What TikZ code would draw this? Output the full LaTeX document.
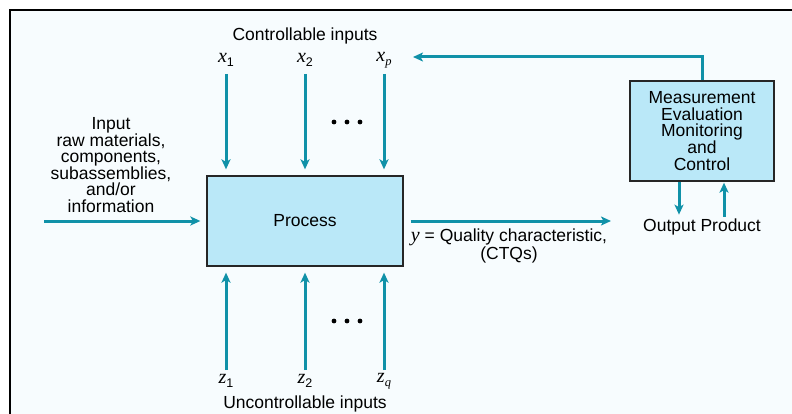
\documentclass[tikz,border=0pt]{standalone}
\usepackage{fontspec}
\setmainfont{Liberation Sans}
\newfontfamily\timesfont{Liberation Serif}
\usetikzlibrary{arrows.meta, positioning}

\definecolor{flowteal}{RGB}{16,145,168}
\definecolor{boxblue}{RGB}{186,232,248}
\definecolor{paper}{RGB}{247,252,254}

\newcommand{\ivar}[1]{{\timesfont\itshape\fontsize{20}{16.6}\selectfont #1}}
\newcommand{\subit}[1]{{\timesfont\itshape #1}}
\newcommand{\mvar}[2]{\ivar{#1}\raisebox{-0.45ex}{\fontsize{12.5}{12.5}\selectfont #2}}

\tikzset{
  flow/.style={draw=flowteal, line width=3pt, -{Stealth[length=10pt,width=9pt,inset=2.5pt]}},
  blockbox/.style={draw=black!85, line width=1.3pt, fill=boxblue},
  lbl/.style={inner sep=0pt, align=center, font=\fontsize{17.5}{16.6}\selectfont},
}

\begin{document}
\begin{tikzpicture}[x=1pt,y=-1pt]
    \useasboundingbox (0,0) rectangle (792,414);
    \fill[paper] (10,10) rectangle (792,414);
    \draw[line width=2pt] (10,414) -- (10,10) -- (792,10);

    % blocks
    \node[blockbox, lbl, minimum width=196pt, minimum height=90pt] (proc) at (305,221) {Process};
    \node[blockbox, lbl, minimum width=144pt, minimum height=100pt] (meas) at (702,131)
        {Measurement\\Evaluation\\Monitoring\\and\\Control};

    % inputs
    \node[lbl] (ctrl) at (305,36) {Controllable inputs};
    \node[lbl] (unctrl) at (305,404) {Uncontrollable inputs};
    \foreach \nm/\xx/\tx in {x1/226/\mvar{x}{1}, x2/305/\mvar{x}{2}, xp/384/\mvar{x}{\subit{p}}} {
        \node[lbl] (\nm) at (\xx,60) {\tx};
        \draw[flow] (\nm) ++(0,14) -- ([yshift=6pt]\nm |- proc.north);
    }
    \foreach \nm/\xx/\tx in {z1/226/\mvar{z}{1}, z2/305/\mvar{z}{2}, zq/384/\mvar{z}{\subit{q}}} {
        \node[lbl] (\nm) at (\xx,381) {\tx};
        \draw[flow] (\nm) ++(0,-11) -- ([yshift=-6pt]\nm |- proc.south);
    }
    \foreach \dx in {334,347,360} {
        \fill (\dx,122) circle (2.4pt);
        \fill (\dx,321) circle (2.4pt);
    }

    \node[lbl] (raw) at (111,165) {Input\\raw materials,\\components,\\subassemblies,\\and/or\\information};
    \coordinate (src) at (44,221);
    \draw[flow] (src) -- ([xshift=-6pt]proc.west);

    % output
    \coordinate (qend) at (611,221);
    \draw[flow] ([xshift=7pt]proc.east) -- (qend);
    \node[lbl] (ctq) at (509,246) {\ivar{y} = Quality characteristic,\\(CTQs)};
    \node[lbl] (outprod) at (702,227) {Output Product};

    % feedback
    \coordinate (fbend) at (413,57);
    \draw[flow] (meas.north) |- (fbend);
    \draw[flow] ([xshift=-23pt]meas.south) -- ++(0,33);
    \draw[flow] ([xshift=22pt]meas.south) ++(0,35) -- ([xshift=22pt,yshift=-1pt]meas.south);
\end{tikzpicture}
\end{document}
